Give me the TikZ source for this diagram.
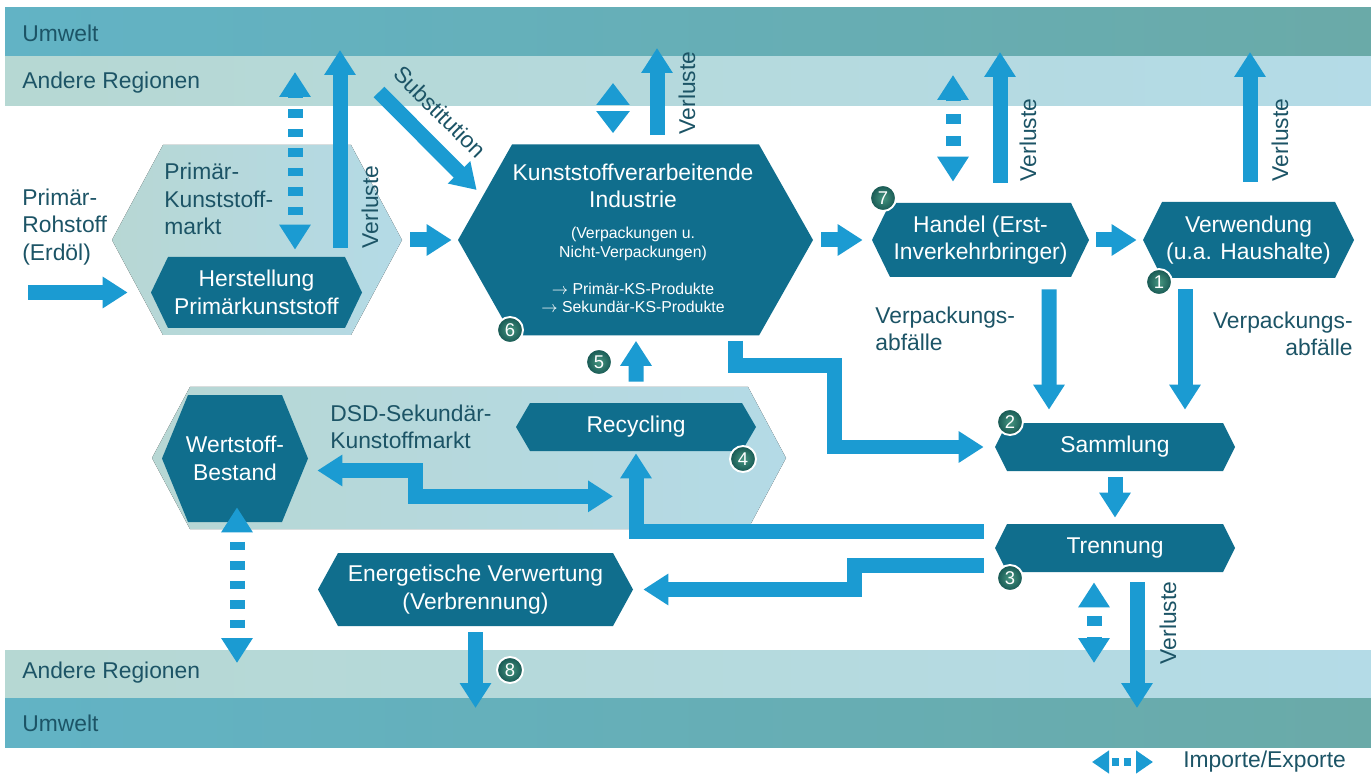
\documentclass[tikz,border=0pt]{standalone}
\usepackage{fontspec}
\setmainfont{Liberation Sans}
\usetikzlibrary{arrows.meta,calc}

\definecolor{hexdark}{RGB}{16,110,141}
\definecolor{flowblue}{RGB}{27,155,210}
\definecolor{lightL}{RGB}{183,215,212}
\definecolor{lightR}{RGB}{180,218,230}
\definecolor{envL}{RGB}{98,179,197}
\definecolor{envR}{RGB}{106,170,168}
\definecolor{regL}{RGB}{182,216,211}
\definecolor{regR}{RGB}{180,219,231}
\definecolor{labeltext}{RGB}{28,84,102}
\definecolor{numL}{RGB}{70,150,128}
\definecolor{numD}{RGB}{22,86,82}

\newcommand{\boxfont}{\fontsize{13}{15.6}\selectfont}
\newcommand{\smallboxfont}{\fontsize{9}{10.6}\selectfont}

% #1 fill, #2 name, #3 cx, #4 cy, #5 half width, #6 half height, #7 inset, #8 text
\newcommand{\hexnode}[8]{%
  \fill[#1] (#3-#5,#4) -- (#3-#5+#7,#4-#6) -- (#3+#5-#7,#4-#6)
    -- (#3+#5,#4) -- (#3+#5-#7,#4+#6) -- (#3-#5+#7,#4+#6) -- cycle;
  \node[hexlabel, minimum width={2*#5*0.02cm}, minimum height={2*#6*0.02cm}] (#2) at (#3,#4) {#8};
}

\tikzset{
  flow/.style={draw=flowblue, line width=0.3cm, line join=miter,
    -{Triangle[length=0.5cm,width=0.6cm]}},
  flowboth/.style={flow, {Triangle[length=0.5cm,width=0.6cm]}-{Triangle[length=0.5cm,width=0.6cm]}},
  imex/.style={flowboth, dash pattern=on 0.17cm off 0.22cm, dash phase=0.17cm},
  imexshort/.style={flow, {Triangle[length=0.44cm,width=0.64cm]}-{Triangle[length=0.44cm,width=0.64cm]},
    dash pattern=on 0pt off 2cm},
  legendarrow/.style={draw=flowblue, line width=0.16cm,
    {Triangle[length=0.34cm,width=0.44cm]}-{Triangle[length=0.34cm,width=0.44cm]},
    dash pattern=on 0.14cm off 0.1cm, dash phase=0.16cm},
  hexlabel/.style={inner sep=0pt, text=white, align=center, font=\boxfont},
  darkhex/.style={fill=hexdark},
  lighthex/.style={left color=lightL, right color=lightR},
  plain/.style={text=labeltext, font=\boxfont, inner sep=0pt},
  bandtext/.style={plain, anchor=west},
  num/.style={circle, draw=white, line width=1.1pt, inner color=numL, outer color=numD,
    minimum size=0.52cm, inner sep=0pt, text=white, font=\fontsize{10.5}{12}\selectfont}
}

\begin{document}
\begin{tikzpicture}[x=0.02cm, y=-0.02cm]
\fill[white] (0,0) rectangle (1371,783);
\useasboundingbox (0,0) rectangle (1371,783);

% bands
\fill[left color=envL, right color=envR] (5,8) rectangle (1371,57);
\fill[left color=regL, right color=regR] (5,57) rectangle (1371,106);
\fill[left color=regL, right color=regR] (5,650) rectangle (1371,698);
\fill[left color=envL, right color=envR] (5,698) rectangle (1371,747);
\node[bandtext] (envtop) at (22,33) {Umwelt};
\node[bandtext] (regtop) at (22,83) {Andere Regionen};
\node[bandtext] (regbot) at (22,673) {Andere Regionen};
\node[bandtext] (envbot) at (22,723) {Umwelt};

% markets
\hexnode{lighthex}{pmarkt}{257}{240}{145}{95}{51}{}
\hexnode{lighthex}{dsd}{469}{458}{317}{71}{38}{}

% processes
\hexnode{darkhex}{herst}{256.5}{292.5}{105.5}{35.5}{17}{Herstellung\\Primärkunststoff}
\hexnode{darkhex}{ind}{635.5}{240}{177.5}{95.5}{54}{}
\hexnode{darkhex}{handel}{980.5}{240}{108.5}{37}{18}{Handel (Erst-\\Inverkehrbringer)}
\hexnode{darkhex}{verw}{1248.5}{240}{105.5}{38}{19}{Verwendung\\(u.a. Haushalte)}
\hexnode{darkhex}{samml}{1115}{447}{120}{24}{12}{Sammlung}
\hexnode{darkhex}{trenn}{1115}{548}{120}{24}{12}{Trennung}
\hexnode{darkhex}{recyc}{636}{427}{120}{24}{14}{Recycling}
\hexnode{darkhex}{wert}{235}{458.5}{73}{63.5}{26}{Wertstoff-\\Bestand}
\hexnode{darkhex}{energ}{475.5}{589.5}{157.5}{36.5}{20}{Energetische Verwertung\\(Verbrennung)}

\node[hexlabel] (indtitle) at (633,186) {Kunststoffverarbeitende\\Industrie};
\node[hexlabel, font=\smallboxfont] (indsub) at (633,244) {(Verpackungen u.\\Nicht-Verpackungen)};
\node[hexlabel, font=\smallboxfont] (indprod) at (633,298) {$\rightarrow$ Primär-KS-Produkte\\$\rightarrow$ Sekundär-KS-Produkte};

% main flows
\coordinate (rohstart) at (28,292.5);
\draw[flow] (rohstart) -- ($(herst.west)+(-23,0)$);
\draw[flow] ($(pmarkt.east)+(8,0)$) -- ($(ind.west)+(-6,0)$);
\draw[flow] ($(ind.east)+(8,0)$) -- ($(handel.west)+(-9,0)$);
\draw[flow] ($(handel.east)+(7,0)$) -- ($(verw.west)+(-6,0)$);
\coordinate (substart) at (379,92);
\draw[flow] (substart) -- ($(ind.west)+(19,-50)$);
\draw[flow] ($(handel.south)+(68.5,12)$) -- ($(samml.north)+(-66,-13)$);
\draw[flow] ($(verw.south)+(-63.5,11)$) -- ($(samml.north)+(70,-13)$);
\draw[flow] ($(samml.south)+(0,6)$) -- ($(trenn.north)+(0,-6)$);
\draw[flow] ($(ind.south)+(99.5,5)$) -- ++(0,25) -- ++(99,0) |- ($(samml.west)+(-11,0)$);
\draw[flow] ($(trenn.west)+(-11,-17)$) -| ($(recyc.south)+(0,2)$);
\draw[flow] ($(trenn.west)+(-11,17)$) -- ++(-129,0) |- ($(energ.east)+(10,0)$);
\draw[flowboth] ($(wert.east)+(9,12)$) -- ++(98,0) |- ($(recyc.south)+(-23,45)$);
\draw[flow] ($(recyc.north)+(0,-21)$) -- ($(ind.south)+(0.5,5)$);

% losses
\coordinate (pmverl) at (340,50);
\draw[flow] ($(herst.north -| pmverl)+(0,-9)$) -- (pmverl);
\coordinate (indverl) at (657,48);
\draw[flow] ($(ind.north -| indverl)+(0,-9)$) -- (indverl);
\coordinate (hdverl) at (1000,52);
\draw[flow] ($(handel.north -| hdverl)+(0,-20)$) -- (hdverl);
\coordinate (vwverl) at (1250,52);
\draw[flow] ($(verw.north -| vwverl)+(0,-20)$) -- (vwverl);
\coordinate (trverl) at (1137,708);
\draw[flow] ($(trenn.south -| trverl)+(0,10)$) -- (trverl);
\coordinate (enverl) at (475.5,708);
\draw[flow] ($(energ.south)+(0,6)$) -- (enverl);

% imports / exports
\coordinate (pmimex) at (295,72);
\draw[imex] ($(herst.north -| pmimex)+(0,-7)$) -- (pmimex);
\coordinate (indimex) at (613,83);
\draw[imexshort] ($(ind.north -| indimex)+(0,-11)$) -- (indimex);
\coordinate (hdimex) at (953,75);
\draw[imex, dash pattern=on 0.2cm off 0.246cm, dash phase=0.2cm] ($(handel.north -| hdimex)+(0,-21)$) -- (hdimex);
\coordinate (trimex) at (1094,663);
\draw[imex, dash pattern=on 0.2cm off 0.21cm, dash phase=0.2cm] ($(trenn.south -| trimex)+(0,10)$) -- (trimex);
\coordinate (wtimex) at (237,663);
\draw[imex] ($(wert.south -| wtimex)+(0,-15)$) -- (wtimex);

% labels
\node[plain, align=left, anchor=west] (rohlabel) at (22,227) {Primär-\\Rohstoff\\(Erdöl)};
\node[plain, align=left, anchor=west] (pmlabel) at (164,199) {Primär-\\Kunststoff-\\markt};
\node[plain, align=left, anchor=west] (dsdlabel) at (330,427) {DSD-Sekundär-\\Kunstoffmarkt};
\node[plain, rotate=-45] (sublabel) at (440,112) {Substitution};
\node[plain, rotate=90] (pmverllabel) at (370,207) {Verluste};
\node[plain, rotate=90] (indverllabel) at (687,93) {Verluste};
\node[plain, rotate=90] (hdverllabel) at (1028,140) {Verluste};
\node[plain, rotate=90] (vwverllabel) at (1280,140) {Verluste};
\node[plain, rotate=90] (trverllabel) at (1168,623) {Verluste};
\node[plain, align=left, anchor=west] (hdwaste) at (875,329) {Verpackungs-\\abfälle};
\node[plain, align=right, anchor=east] (vwwaste) at (1353,334) {Verpackungs-\\abfälle};

% step numbers
\node[num] (n1) at (1159,282) {1};
\node[num] (n2) at (1010,422) {2};
\node[num] (n3) at (1010,578) {3};
\node[num] (n4) at (743,459) {4};
\node[num] (n5) at (599,362) {5};
\node[num] (n6) at (510,330) {6};
\node[num] (n7) at (883,198) {7};
\node[num] (n8) at (510,670) {8};

% legend
\coordinate (lega) at (1092,762);
\coordinate (legb) at (1153,762);
\draw[legendarrow] (lega) -- (legb);
\node[plain, anchor=west] (legtext) at (1183,762) {Importe/Exporte};

\end{tikzpicture}
\end{document}
